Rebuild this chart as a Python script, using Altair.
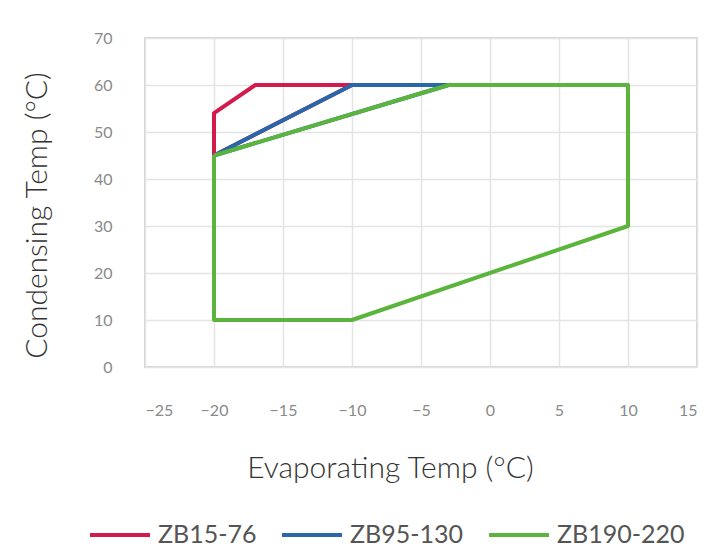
import altair as alt
import pandas as pd

series = ["ZB15-76", "ZB95-130", "ZB190-220"]
colors = ["#d31a4c", "#2767aa", "#5bb53c"]

red_x = [-20, -20, -17, -10, -20]
red_y = [45, 54, 60, 60, 45]
blue_x = [-20, -10, -3, -20]
blue_y = [45, 60, 60, 45]
green_x = [-20, -3, 10, 10, -10, -20, -20]
green_y = [45, 60, 60, 30, 10, 10, 45]

x_ticks = [-25, -20, -15, -10, -5, 0, 5, 10, 15]
y_ticks = [0, 10, 20, 30, 40, 50, 60, 70]

rows = []
for name, xs, ys in zip(series, [red_x, blue_x, green_x], [red_y, blue_y, green_y]):
    for i, (xv, yv) in enumerate(zip(xs, ys)):
        rows.append({"series": name, "x": xv, "y": yv, "idx": i})
df = pd.DataFrame(rows)

FONT = "Lato"
color = alt.Color(
    "series:N",
    scale=alt.Scale(domain=series, range=colors),
    legend=alt.Legend(
        title=None,
        orient="none",
        legendX=-57,
        legendY=465,
        direction="horizontal",
        symbolType="stroke",
        symbolSize=3600,
        symbolStrokeWidth=4,
        labelFontSize=25,
        labelFont=FONT,
        labelColor="#555555",
        labelOffset=6,
        columnPadding=17,
    ),
)

xenc = alt.X(
    "x:Q",
    scale=alt.Scale(domain=[-25, 15], nice=False, zero=False),
    axis=alt.Axis(
        values=x_ticks,
        title="Evaporating Temp (°C)",
        titleX=245,
        titleY=101,
        titleBaseline="middle",
        titleFontSize=30,
        titleFontWeight=300,
        titleFont=FONT,
        titleColor="#333333",
        labelFontSize=16,
        labelFont=FONT,
        labelColor="#8a8a8a",
        labelPadding=35,
        domain=False,
        ticks=False,
        grid=True,
        gridColor="#e4e4e4",
        gridWidth=1.5,
    ),
)
yenc = alt.Y(
    "y:Q",
    scale=alt.Scale(domain=[0, 70], nice=False),
    axis=alt.Axis(
        values=y_ticks,
        title="Condensing Temp (°C)",
        titleX=-108,
        titleY=177,
        titleBaseline="middle",
        titleFontSize=30,
        titleFontWeight=300,
        titleFont=FONT,
        titleColor="#333333",
        labelFontSize=16,
        labelFont=FONT,
        labelColor="#8a8a8a",
        labelPadding=33,
        domain=False,
        ticks=False,
        grid=True,
        gridColor="#e4e4e4",
        gridWidth=1.5,
    ),
)

layers = []
for s in series:
    layers.append(
        alt.Chart(df)
        .transform_filter(alt.datum.series == s)
        .mark_line(strokeWidth=4, strokeJoin="round")
        .encode(x=xenc, y=yenc, color=color, order="idx:Q")
    )

chart = (
    alt.layer(*layers)
    .properties(
        width=552,
        height=329,
        autosize=alt.AutoSizeParams(type="none"),
        padding={"left": 137, "top": 30, "right": 5, "bottom": 182},
        background="white",
    )
    .configure_view(stroke="#d4d4d4", strokeWidth=2)
)

chart.save("out.html", embed_options={"renderer": "svg", "actions": False})
